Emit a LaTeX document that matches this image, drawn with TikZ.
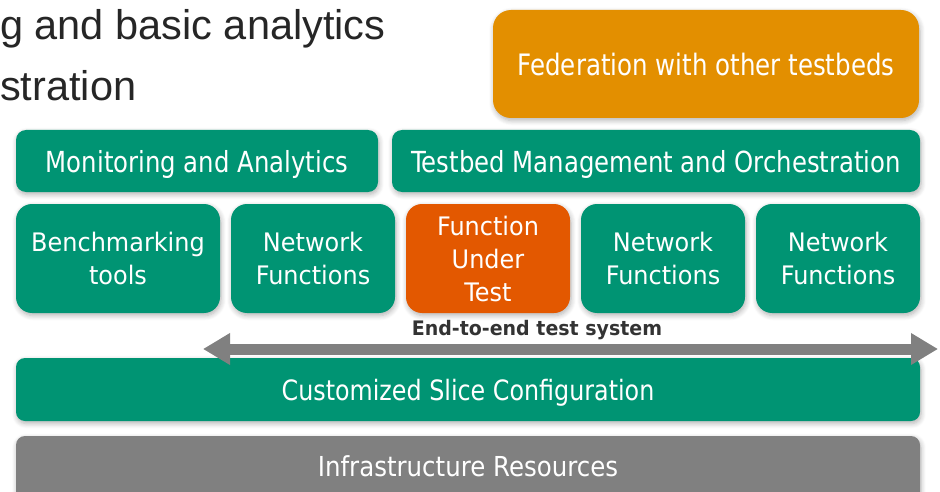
\documentclass[tikz,border=0pt]{standalone}
\usepackage{fontspec}
\setmainfont{Liberation Sans}
\newfontfamily\rowfont[FakeStretch=0.94]{DejaVu Sans}
\newfontfamily\barfont[FakeStretch=0.84]{DejaVu Sans}
\newfontfamily\fedfont[FakeStretch=0.83]{DejaVu Sans}
\newfontfamily\slicefont[FakeStretch=0.85]{DejaVu Sans}
\newfontfamily\infrafont[FakeStretch=0.89]{DejaVu Sans}
\newfontfamily\labelfont[FakeStretch=0.95]{DejaVu Sans}
\usetikzlibrary{arrows.meta,shadows.blur}

\definecolor{tealgreen}{RGB}{0,148,115}
\definecolor{amber}{RGB}{227,143,0}
\definecolor{burnt}{RGB}{227,88,0}
\definecolor{slate}{RGB}{128,128,128}
\definecolor{inkgray}{RGB}{51,51,51}
\definecolor{headgray}{RGB}{38,38,38}

\tikzset{
  block/.style={rounded corners=#1, text=white, align=center, inner sep=0pt,
    blur shadow={shadow xshift=1pt, shadow yshift=-2.5pt, shadow blur radius=5pt,
      shadow blur steps=6, shadow opacity=30}},
  greenblock/.style={block=#1, fill=tealgreen},
  oneline/.style={text depth=0pt},
  headline/.style={anchor=base west, inner sep=0pt, text=headgray,
    font=\fontsize{41.5}{41.5}\selectfont},
  e2earrow/.style={draw=slate, line width=11pt,
    {Triangle[length=27pt,width=30pt]}-{Triangle[length=27pt,width=30pt]}},
}

\begin{document}
\begin{tikzpicture}[x=1pt,y=-1pt]
\useasboundingbox (0,0) rectangle (940,492);

% heading lines
\node[headline] (h1) at (0,40) {g and basic analytics};
\node[headline] (h2) at (0,101) {stration};

% federation
\node[block=18pt, oneline, fill=amber, minimum width=426pt, minimum height=108pt,
  font=\fedfont\fontsize{29.5}{32}\selectfont] (fed) at (706,64) {Federation with other testbeds};

% management layer
\node[greenblock=10pt, oneline, minimum width=362pt, minimum height=62pt,
  font=\barfont\fontsize{29}{32}\selectfont] (mon) at (197,161) {Monitoring and Analytics};
\node[greenblock=10pt, oneline, minimum width=528pt, minimum height=62pt,
  font=\barfont\fontsize{29}{32}\selectfont] (tmo) at (656,161) {Testbed Management and Orchestration};

% function row
\tikzset{rowbox/.style={minimum height=109pt, font=\rowfont\fontsize{25.5}{33}\selectfont}}
\node[greenblock=16pt, rowbox, minimum width=204pt] (bench) at (118,258.5) {Benchmarking\\tools};
\node[greenblock=16pt, rowbox, minimum width=164pt] (nf1) at (313,258.5) {Network\\Functions};
\node[block=16pt, fill=burnt, rowbox, minimum width=164pt] (fut) at (488,258.5) {Function\\Under\\Test};
\node[greenblock=16pt, rowbox, minimum width=164pt] (nf2) at (663,258.5) {Network\\Functions};
\node[greenblock=16pt, rowbox, minimum width=164pt] (nf3) at (838,258.5) {Network\\Functions};

% slice and infrastructure
\node[greenblock=9pt, oneline, minimum width=904pt, minimum height=63pt,
  font=\slicefont\fontsize{28}{32}\selectfont] (slice) at (468,389.5) {Customized Slice Configuration};
\node[block=9pt, fill=slate, minimum width=904pt, minimum height=66pt] (infra) at (468,469) {};
\node[text=white, oneline, font=\infrafont\fontsize{27.5}{32}\selectfont] (infratxt) at (468,466) {Infrastructure Resources};

% end-to-end arrow
\coordinate (e2eL) at (203,349);
\coordinate (e2eR) at (938,349);
\draw[e2earrow] (e2eL) -- (e2eR);
\node[text=inkgray, font=\labelfont\bfseries\fontsize{20}{22}\selectfont] (e2e) at (537,330) {End-to-end test system};
\end{tikzpicture}
\end{document}
